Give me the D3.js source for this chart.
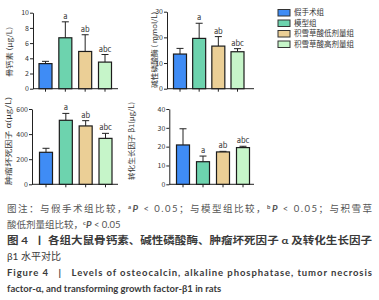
<!DOCTYPE html>
<html>
<head>
<meta charset="UTF-8">
<script src="https://d3js.org/d3.v7.min.js"></script>
<style>
  body { margin: 0; background: #fff; }
  svg { display: block; }
  text { font-family: "Noto Sans CJK SC", sans-serif; }
  .cap { font-family: Lato, "Noto Sans CJK SC", sans-serif; white-space: pre; }
</style>
</head>
<body>
<svg id="svg1" width="379" height="300"></svg>
<script>
const groups = ["假手术组", "模型组", "积雪草酸低剂量组", "积雪草酸高剂量组"];
const colors = ["#3f8cf5", "#6dd3ae", "#ebcf96", "#c6f5c9"];
const sigLabels = ["", "a", "ab", "abc"];

const ocMean = [3.3, 6.7, 4.9, 3.5];
const ocErr  = [3.6, 8.8, 7.1, 4.5];
const alpMean = [13.5, 19.6, 16.6, 14.4];
const alpErr  = [15.7, 25.5, 20.3, 15.6];
const tnfMean = [255, 510, 465, 366];
const tnfErr  = [287, 565, 507, 406];
const tgfMean = [20.9, 12.0, 17.2, 19.5];
const tgfErr  = [29.5, 15.0, 17.5, 20.2];
const tgfSig  = ["", "a", "ab", "abc"];

const svg = d3.select("#svg1");

const panels = [
  { mean: ocMean, err: ocErr, sig: sigLabels, domain: [0, 10], ticks: [0, 2, 4, 6, 8, 10],
    ax: 33, y0: 88.7, y1: 12.7, xr: [45.5, 105], xEnd: 118, label: "骨钙素 (μg/L)", lx: 10, ly: 52, lw: 50 },
  { mean: alpMean, err: alpErr, sig: sigLabels, domain: [0, 30], ticks: [0, 10, 20, 30],
    ax: 167, y0: 88.7, y1: 11.7, xr: [180, 237.5], xEnd: 254, label: "碱性磷酸酶 ( mmol/L)", lx: 155, ly: 50, lw: 76 },
  { mean: tnfMean, err: tnfErr, sig: sigLabels, domain: [0, 600], ticks: [0, 200, 400, 600],
    ax: 32, y0: 184.3, y1: 109, xr: [46, 105.5], xEnd: 118, label: "肿瘤坏死因子 α(μg/L)", lx: 9, ly: 141, lw: 88 },
  { mean: tgfMean, err: tgfErr, sig: tgfSig, domain: [0, 40], ticks: [0, 10, 20, 30, 40],
    ax: 169.3, y0: 184.3, y1: 109, xr: [183, 243], xEnd: 254, label: "转化生长因子 β1(μg/L)", lx: 132, ly: 141, lw: 78 }
];

const barW = 13;

panels.forEach(p => {
  const y = d3.scaleLinear(p.domain, [p.y0, p.y1]);
  const x = d3.scalePoint(groups, p.xr);
  const g = svg.append("g");

  // y axis
  const yAxis = d3.axisLeft(y).tickValues(p.ticks).tickSize(3).tickPadding(1).tickSizeOuter(0);
  g.append("g").attr("transform", `translate(${p.ax},0)`).call(yAxis)
    .call(a => a.select(".domain").attr("stroke", "#222"))
    .call(a => a.selectAll(".tick line").attr("stroke", "#222"))
    .call(a => a.selectAll("text").attr("font-size", 7).attr("fill", "#333").attr("font-family", "Lato, sans-serif"));

  // x axis line + ticks
  g.append("line").attr("x1", p.ax).attr("x2", p.xEnd).attr("y1", p.y0).attr("y2", p.y0)
    .attr("stroke", "#222").attr("stroke-width", 1);
  g.selectAll(".xt").data(groups).join("line")
    .attr("x1", d => x(d)).attr("x2", d => x(d))
    .attr("y1", p.y0).attr("y2", p.y0 + 3).attr("stroke", "#222");

  // error bars
  g.selectAll(".eb").data(groups).join("line")
    .attr("x1", d => x(d)).attr("x2", d => x(d))
    .attr("y1", (d, i) => y(p.mean[i])).attr("y2", (d, i) => y(p.err[i]))
    .attr("stroke", "#222").attr("stroke-width", 1);
  g.selectAll(".cap").data(groups).join("line")
    .attr("x1", d => x(d) - 3.5).attr("x2", d => x(d) + 3.5)
    .attr("y1", (d, i) => y(p.err[i])).attr("y2", (d, i) => y(p.err[i]))
    .attr("stroke", "#222").attr("stroke-width", 1);

  // bars
  g.selectAll("rect").data(groups).join("rect")
    .attr("x", d => x(d) - barW / 2).attr("width", barW)
    .attr("y", (d, i) => y(p.mean[i]))
    .attr("height", (d, i) => p.y0 - y(p.mean[i]))
    .attr("fill", (d, i) => colors[i])
    .attr("stroke", "#1c1c1c").attr("stroke-width", 1.2);

  // significance letters
  g.selectAll(".sig").data(groups).join("text")
    .attr("x", d => x(d)).attr("y", (d, i) => y(p.err[i]) - 3)
    .attr("text-anchor", "middle").attr("font-size", 7.5).attr("fill", "#333")
    .attr("font-family", "Lato, sans-serif")
    .text((d, i) => p.sig[i]);

  // y label
  const lab = g.append("text")
    .attr("transform", `translate(${p.lx},${p.ly}) rotate(-90)`)
    .attr("text-anchor", "middle").attr("dy", "0.35em")
    .attr("font-size", 7).attr("fill", "#333").text(p.label);
  if (p.lw) lab.attr("textLength", p.lw).attr("lengthAdjust", "spacingAndGlyphs");
});

// legend
const leg = svg.append("g").attr("transform", "translate(278,9.5)");
groups.forEach((gname, i) => {
  leg.append("rect").attr("x", 0).attr("y", i * 10.5).attr("width", 12).attr("height", 6.5)
    .attr("fill", colors[i]).attr("stroke", "#333").attr("stroke-width", 1);
  leg.append("text").attr("x", 16).attr("y", i * 10.5 + 3.3).attr("dy", "0.35em")
    .attr("font-size", 7.5).attr("fill", "#333").text(gname);
});

// caption
const cap = svg.append("g");
function capLine(yy, parts, opts) {
  const t = cap.append("text").attr("class", "cap").attr("x", 7).attr("y", yy)
    .attr("font-size", opts.size || 9.5).attr("fill", opts.fill || "#555")
    .attr("font-weight", opts.bold ? "bold" : "normal");
  if (opts.len) t.attr("textLength", opts.len).attr("lengthAdjust", opts.adj || "spacing");
  parts.forEach(pt => {
    const s = t.append("tspan").text(pt.t);
    if (pt.sup) s.attr("font-size", 6).attr("baseline-shift", "super").attr("font-weight", "bold");
    if (pt.it) s.attr("font-style", "italic").attr("font-weight", "bold");
  });
}
capLine(212, [
  { t: "图注：与假手术组比较，" }, { t: "a", sup: true }, { t: "P", it: true }, { t: " < 0.05；与模型组比较，" },
  { t: "b", sup: true }, { t: "P", it: true }, { t: " < 0.05；与积雪草" }
], { len: 365 });
capLine(228, [
  { t: "酸低剂量组比较，" }, { t: "c", sup: true }, { t: "P", it: true }, { t: " < 0.05" }
], {});
capLine(244, [{ t: "图 4  丨 各组大鼠骨钙素、碱性磷酸酶、肿瘤坏死因子 α 及转化生长因子" }],
  { len: 365, adj: "spacingAndGlyphs", size: 10, bold: true, fill: "#3a3a3a" });
capLine(260, [{ t: "β1 水平对比" }], { size: 10, fill: "#3a3a3a" });
capLine(276, [{ t: "Figure 4   |   Levels of osteocalcin, alkaline phosphatase, tumor necrosis" }], { len: 365, bold: true, fill: "#3a3a3a" });
capLine(292, [{ t: "factor-α, and transforming growth factor-β1 in rats" }], { bold: true, fill: "#3a3a3a" });
</script>
</body>
</html>
